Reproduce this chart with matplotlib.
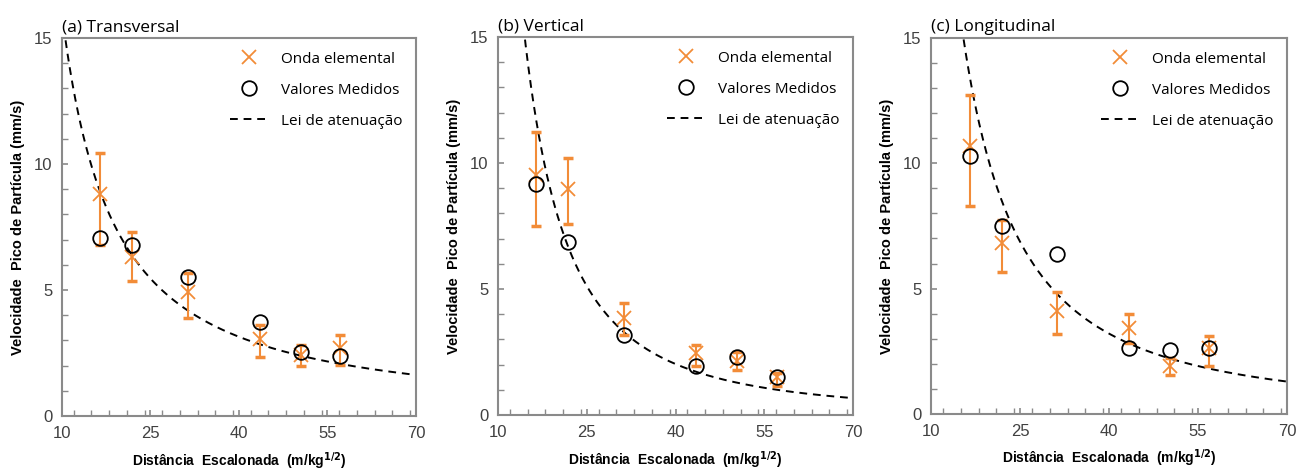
import numpy as np
import matplotlib
matplotlib.use("Agg")
import matplotlib.pyplot as plt
from matplotlib.ticker import MultipleLocator

# distancia escalonada (m/kg^1/2) for each panel
dist = {
    "a": [16.5, 21.85, 31.3, 43.5, 50.5, 57.1],
    "b": [16.4, 21.85, 31.3, 43.4, 50.4, 57.1],
    "c": [16.6, 21.9, 31.3, 43.4, 50.2, 56.9],
}

# onda elemental: value, error bar top, error bar bottom
onda = {
    "a": [8.8, 6.32, 4.91, 3.05, 2.43, 2.69],
    "b": [9.52, 8.95, 3.84, 2.46, 2.15, 1.49],
    "c": [10.67, 6.81, 4.09, 3.42, 1.92, 2.62],
}
onda_top = {
    "a": [10.42, 7.3, 5.68, 3.62, 2.83, 3.2],
    "b": [11.24, 10.21, 4.46, 2.76, 2.5, 1.66],
    "c": [12.71, 7.75, 4.85, 3.99, 2.22, 3.13],
}
onda_bot = {
    "a": [6.78, 5.35, 3.89, 2.36, 2.0, 2.03],
    "b": [7.51, 7.57, 3.18, 1.95, 1.8, 1.14],
    "c": [8.28, 5.66, 3.19, 2.82, 1.56, 1.93],
}

# valores medidos
medidos = {
    "a": [7.08, 6.78, 5.52, 3.73, 2.54, 2.4],
    "b": [9.16, 6.87, 3.16, 1.93, 2.28, 1.5],
    "c": [10.3, 7.51, 6.39, 2.65, 2.56, 2.62],
}

# lei de atenuacao  v = K * D^-b
lei_K = {"a": 238.0, "b": 2958.0, "c": 1272.0}
lei_b = {"a": 1.173, "b": 1.976, "c": 1.622}

titles = {"a": "(a) Transversal", "b": "(b) Vertical", "c": "(c) Longitudinal"}
xticks = [10, 25, 40, 55, 70]
yticks = [0, 5, 10, 15]

orange = "#F28C38"
gray = "#8a8a8a"
label_font = "Liberation Sans"
text_font = "Open Sans"

fig = plt.figure(figsize=(12.96, 4.71), dpi=100)
positions = {
    "a": [0.0478, 0.1168, 0.2731, 0.8025],
    "b": [0.3843, 0.1190, 0.2740, 0.8025],
    "c": [0.7184, 0.1210, 0.2747, 0.7985],
}

for key in ["a", "b", "c"]:
    ax = fig.add_axes(positions[key])
    x = np.array(dist[key])
    y = np.array(onda[key])
    yerr = [y - np.array(onda_bot[key]), np.array(onda_top[key]) - y]
    ax.errorbar(x, y, yerr=yerr, fmt="none", ecolor=orange, elinewidth=1.5,
                capsize=3.5, capthick=2.5, zorder=2)
    ax.plot(x, y, linestyle="none", marker="x", color=orange, markersize=10,
            markeredgewidth=1.3, label="Onda elemental", zorder=3)
    ax.plot(x, medidos[key], linestyle="none", marker="o", markerfacecolor="none",
            markeredgecolor="black", markersize=10.5, markeredgewidth=1.3,
            label="Valores Medidos", zorder=4)
    xs = np.linspace(10, 70, 400)
    ax.plot(xs, lei_K[key] * xs ** (-lei_b[key]), color="black", linestyle=(0, (4, 3)),
            linewidth=1.4, label="Lei de atenuação", zorder=1)

    ax.set_xlim(10, 70)
    ax.set_ylim(0, 15)
    ax.set_xticks(xticks)
    ax.set_yticks(yticks)
    ax.xaxis.set_minor_locator(MultipleLocator(3))
    ax.yaxis.set_minor_locator(MultipleLocator(1))
    ax.tick_params(which="both", direction="in", color=gray, labelcolor="#404040",
                   labelsize=12, top=False, right=False)
    ax.tick_params(which="major", length=4, width=1.2, pad=7)
    ax.tick_params(which="minor", length=4, width=1)
    for lab in ax.get_xticklabels() + ax.get_yticklabels():
        lab.set_family(label_font)
    for sp in ax.spines.values():
        sp.set_color(gray)
        sp.set_linewidth(1.5)

    ax.set_xlabel(r"Distância  Escalonada  (m/kg$^{\mathbf{1/2}}$)", fontsize=10,
                  fontweight="bold", family=label_font)
    ax.xaxis.set_label_coords(0.5, -0.09)
    ax.set_ylabel("Velocidade  Pico de Partícula (mm/s)", fontsize=10.5,
                  fontweight="bold", family=label_font)
    ax.yaxis.set_label_coords(-0.105, 0.5)
    ax.set_title(titles[key], loc="left", fontsize=12.5, family=text_font, pad=5)

    ax.legend(loc="upper right", frameon=False, handlelength=2.4,
              handletextpad=0.9, labelspacing=1.05, borderaxespad=0.5,
              prop={"family": text_font, "size": 11})

fig.savefig("out.png", dpi=100)
